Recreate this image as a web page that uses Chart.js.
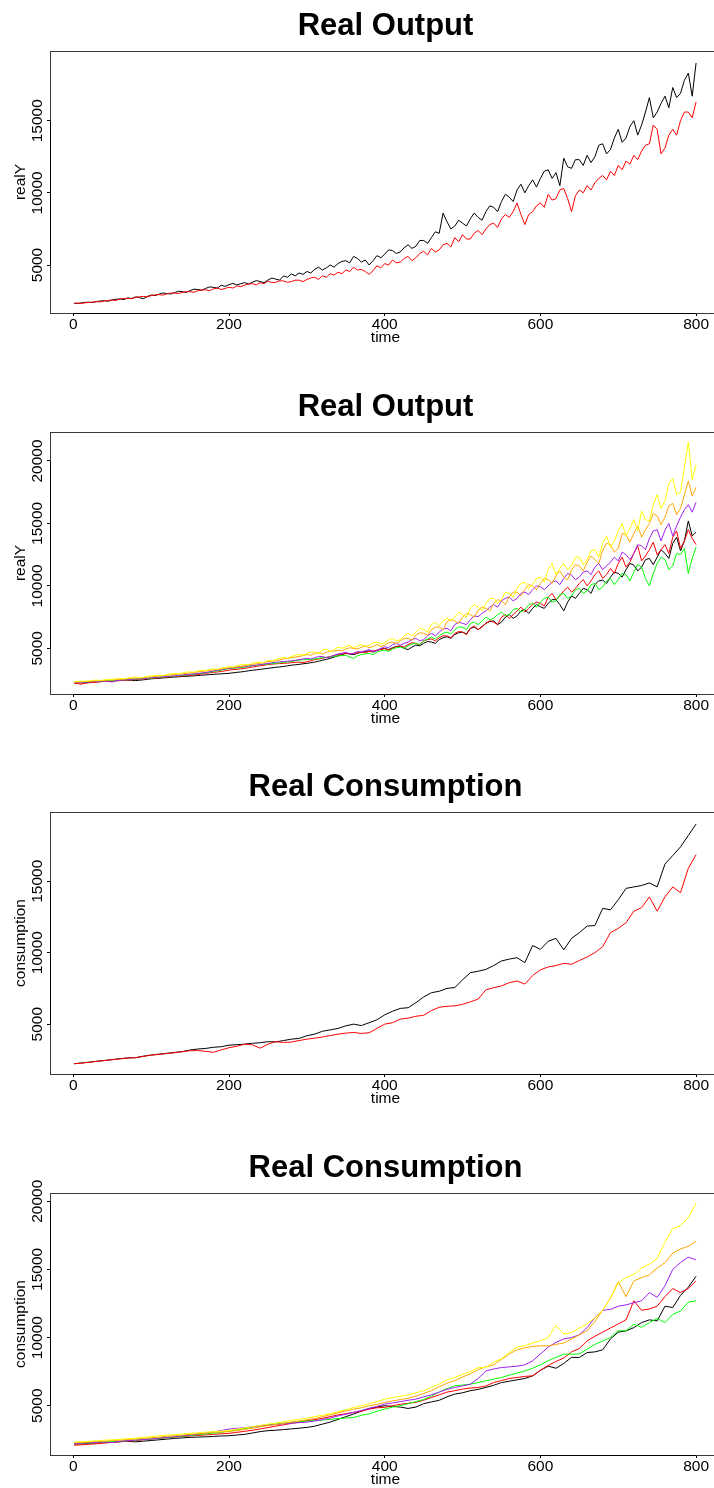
<!DOCTYPE html>
<html>
<head>
<meta charset="utf-8">
<title>Real Output / Real Consumption</title>
<script src="https://cdn.jsdelivr.net/npm/chart.js@4.4.1/dist/chart.umd.min.js"></script>
<style>
  html, body { margin: 0; padding: 0; background: #fff; }
  body { width: 714px; height: 1488px; overflow: hidden; position: relative; }
  .panel { position: absolute; left: 0; }
  .panel canvas { display: block; }
</style>
</head>
<body>
<div class="panel" style="top:0px"><canvas id="p1" width="730" height="372"></canvas></div>
<div class="panel" style="top:381px"><canvas id="p2" width="730" height="372"></canvas></div>
<div class="panel" style="top:761px"><canvas id="p3" width="730" height="372"></canvas></div>
<div class="panel" style="top:1142px"><canvas id="p4" width="730" height="372"></canvas></div>

<script>
/* ---------- data ----------
 * Output panels are noisy, so they are read every 5 periods;
 * the smoother consumption panels every 10.
 */

const timeFine = [
  1, 5, 10, 15, 20, 25, 30, 35, 40, 45, 50, 55, 60, 65, 70, 75, 80, 85, 90, 95,
  100, 105, 110, 115, 120, 125, 130, 135, 140, 145, 150, 155, 160, 165, 170, 175, 180, 185, 190, 195,
  200, 205, 210, 215, 220, 225, 230, 235, 240, 245, 250, 255, 260, 265, 270, 275, 280, 285, 290, 295,
  300, 305, 310, 315, 320, 325, 330, 335, 340, 345, 350, 355, 360, 365, 370, 375, 380, 385, 390, 395,
  400, 405, 410, 415, 420, 425, 430, 435, 440, 445, 450, 455, 460, 465, 470, 475, 480, 485, 490, 495,
  500, 505, 510, 515, 520, 525, 530, 535, 540, 545, 550, 555, 560, 565, 570, 575, 580, 585, 590, 595,
  600, 605, 610, 615, 620, 625, 630, 635, 640, 645, 650, 655, 660, 665, 670, 675, 680, 685, 690, 695,
  700, 705, 710, 715, 720, 725, 730, 735, 740, 745, 750, 755, 760, 765, 770, 775, 780, 785, 790, 795,
  800
];

const timeCoarse = [
  1, 10, 20, 30, 40, 50, 60, 70, 80, 90,
  100, 110, 120, 130, 140, 150, 160, 170, 180, 190,
  200, 210, 220, 230, 240, 250, 260, 270, 280, 290,
  300, 310, 320, 330, 340, 350, 360, 370, 380, 390,
  400, 410, 420, 430, 440, 450, 460, 470, 480, 490,
  500, 510, 520, 530, 540, 550, 560, 570, 580, 590,
  600, 610, 620, 630, 640, 650, 660, 670, 680, 690,
  700, 710, 720, 730, 740, 750, 760, 770, 780, 790,
  800
];

const xTicks = [0, 200, 400, 600, 800];
const yTicksShort = [5000, 10000, 15000];
const yTicksLong = [5000, 10000, 15000, 20000];

// panel 1 — Real Output, two runs (timeFine)
const realYBlack1 = [
  2350, 2330, 2370, 2410, 2420, 2400, 2470, 2510, 2520, 2490, 2580, 2630, 2650, 2610, 2720, 2680, 2790, 2740, 2660, 2820,
  2920, 2880, 2980, 3060, 3020, 2990, 3090, 3180, 3150, 3100, 3230, 3330, 3300, 3250, 3380, 3480, 3450, 3400, 3600, 3520,
  3640, 3720, 3620, 3700, 3780, 3680, 3800, 3920, 3850, 3780, 3960, 4100, 4020, 3950, 4250, 4150, 4380, 4250, 4450, 4350,
  4550, 4450, 4700, 4850, 4650, 4800, 5000, 4850, 5100, 5250, 5300, 5150, 5600, 5450, 5200, 5350, 5000, 5300, 5650, 5500,
  5750, 6050, 6000, 5800, 5900, 6200, 6400, 6150, 6300, 6700, 6700, 6500, 6900, 7300, 7200, 8600, 8000, 7500, 7700, 8100,
  7900, 7700, 8200, 8600, 8300, 8100, 8700, 9100, 9000, 8700, 9400, 9900, 9700, 9400, 10200, 10600, 10000, 10500, 10900, 10400,
  11000, 11500, 11600, 11000, 11400, 10500, 12400, 11800, 11700, 12300, 12300, 11900, 12600, 12100, 12500, 13300, 13400, 12700, 13000, 13800,
  14400, 13500, 13800, 14600, 15000, 14000, 14700, 15600, 16600, 15200, 15600, 16200, 16700, 15900, 17300, 16600, 16900, 17800, 18300, 16700,
  19000
];
const realYRed1 = [
  2350, 2360, 2340, 2380, 2400, 2430, 2460, 2440, 2510, 2550, 2570, 2540, 2640, 2680, 2690, 2660, 2760, 2800, 2820, 2790,
  2880, 2930, 2950, 2910, 3000, 3050, 3060, 3020, 3100, 3150, 3150, 3110, 3220, 3270, 3280, 3220, 3350, 3400, 3300, 3380,
  3460, 3400, 3550, 3500, 3600, 3680, 3700, 3620, 3780, 3700, 3890, 3780, 3800, 3900, 3900, 3800, 3850, 3950, 3950, 3850,
  4000, 4100, 4150, 4000, 4250, 4150, 4400, 4300, 4500, 4400, 4650, 4550, 4850, 4650, 4700, 4550, 4350, 4600, 4950, 4800,
  5100, 5000, 5350, 5150, 5200, 5450, 5600, 5300, 5500, 5800, 5950, 5700, 6150, 5900, 6050, 6400, 6500, 6250, 6900, 6600,
  7100, 6800, 6800, 7200, 7400, 7100, 7500, 7800, 7900, 7600, 8200, 8500, 8300, 8700, 9300, 8500, 7800, 8500, 8700, 9100,
  9300, 9000, 9900, 9500, 9600, 10200, 10300, 9600, 8700, 9800, 10200, 10000, 10500, 10200, 10700, 11000, 11200, 10900, 11500, 11200,
  11900, 11600, 12200, 12000, 12600, 12300, 12900, 13300, 13400, 14700, 14400, 12700, 13100, 14000, 14400, 14000, 15000, 15600, 15600, 15200,
  16300
];

// panel 2 — Real Output, six runs (timeFine)
const realYYellow2 = [
  2330, 2350, 2380, 2360, 2400, 2440, 2450, 2430, 2480, 2520, 2520, 2560, 2580, 2560, 2620, 2680, 2700, 2660, 2690, 2760,
  2780, 2820, 2850, 2820, 2900, 2960, 2990, 2950, 3020, 3100, 3120, 3080, 3200, 3250, 3230, 3300, 3350, 3320, 3420, 3480,
  3530, 3500, 3600, 3680, 3720, 3680, 3800, 3870, 3900, 3850, 4060, 4000, 4100, 4200, 4280, 4200, 4350, 4450, 4520, 4450,
  4600, 4700, 4700, 4600, 4850, 4950, 4750, 4900, 5100, 5000, 5130, 5250, 5050, 5200, 5300, 5150, 5250, 5450, 5500, 5350,
  5450, 5700, 5800, 5600, 5700, 6000, 6200, 6000, 6300, 6600, 6500, 6300, 6900, 7100, 6800, 7200, 7400, 7200, 7500, 7900,
  7700, 7500, 8200, 8500, 8300, 8000, 8600, 9000, 9000, 8600, 8900, 9500, 9400, 9100, 9800, 10200, 10300, 9800, 10100, 10600,
  10700, 10300, 11300, 11800, 10900, 11400, 11800, 11300, 11600, 12300, 12300, 11700, 12100, 12800, 12900, 12300, 13400, 14000, 13100, 13600,
  14400, 15000, 14000, 14600, 15300, 14400, 16000, 15300, 15200, 16500, 17300, 16200, 16800, 18200, 18600, 17300, 17500, 19500, 21500, 18500,
  19700
];
const realYOrange2 = [
  2300, 2310, 2320, 2340, 2360, 2380, 2400, 2420, 2440, 2460, 2470, 2500, 2520, 2540, 2570, 2600, 2620, 2630, 2650, 2690,
  2720, 2750, 2780, 2810, 2840, 2870, 2900, 2940, 2960, 3000, 3050, 3080, 3120, 3150, 3180, 3230, 3280, 3310, 3350, 3400,
  3450, 3480, 3520, 3560, 3600, 3680, 3720, 3760, 3800, 3880, 3950, 3970, 4000, 4080, 4150, 4200, 4250, 4300, 4350, 4420,
  4500, 4450, 4600, 4650, 4550, 4700, 4750, 4800, 4850, 4800, 4950, 5050, 5000, 4950, 5100, 5200, 5050, 5150, 5300, 5150,
  5260, 5450, 5500, 5400, 5600, 5800, 5800, 5650, 6060, 6250, 6200, 6050, 6500, 6700, 6700, 6500, 7130, 7300, 7200, 7000,
  7500, 7800, 7700, 7500, 8060, 8300, 8200, 8000, 8600, 8900, 8800, 8500, 9130, 9500, 9500, 9200, 9700, 10100, 10000, 9700,
  10200, 10600, 10500, 10200, 10800, 11200, 10700, 10500, 11260, 11700, 11600, 11200, 11900, 12400, 12100, 11800, 12860, 13400, 13300, 12700,
  13000, 14200, 14100, 13500, 14200, 14800, 13900, 14500, 15000, 15800, 15600, 14900, 15500, 16400, 16600, 15700, 16200, 17300, 18400, 17200,
  17900
];
const realYPurple2 = [
  2280, 2290, 2270, 2300, 2320, 2340, 2350, 2370, 2390, 2350, 2300, 2420, 2460, 2480, 2500, 2530, 2550, 2560, 2580, 2620,
  2650, 2680, 2700, 2730, 2760, 2780, 2800, 2840, 2870, 2900, 2930, 2970, 3000, 3030, 3060, 3130, 3200, 3250, 3300, 3350,
  3400, 3430, 3470, 3510, 3550, 3590, 3620, 3660, 3700, 3750, 3800, 3840, 3880, 3920, 3950, 3970, 4000, 4050, 4100, 4150,
  4200, 4150, 4250, 4350, 4350, 4250, 4300, 4450, 4550, 4600, 4700, 4550, 4600, 4750, 4700, 4800, 4900, 4750, 4800, 5000,
  5130, 5050, 5300, 5400, 5250, 5400, 5500, 5700, 5800, 5600, 5700, 6000, 6200, 6000, 6300, 6550, 6600, 6400, 6900, 7100,
  7000, 6900, 7300, 7600, 7530, 7800, 8000, 8300, 8500, 8300, 8800, 9000, 9100, 8800, 9000, 9400, 9500, 9300, 9700, 10000,
  9930, 9700, 10000, 10300, 10400, 10100, 10600, 11000, 10860, 10500, 10700, 11100, 11200, 10900, 11500, 11800, 11300, 11600, 11900, 12300,
  12000, 12700, 12500, 12100, 12600, 13300, 13200, 12900, 13800, 14400, 14500, 13600, 14460, 15000, 14000, 14800, 15500, 16100, 16500, 15900,
  16700
];
const realYGreen2 = [
  2280, 2290, 2300, 2310, 2330, 2350, 2370, 2380, 2400, 2420, 2440, 2450, 2470, 2490, 2500, 2520, 2540, 2550, 2570, 2600,
  2620, 2650, 2680, 2700, 2730, 2760, 2780, 2810, 2850, 2870, 2900, 2940, 2970, 3010, 3050, 3100, 3150, 3200, 3250, 3320,
  3380, 3400, 3420, 3460, 3500, 3550, 3600, 3640, 3680, 3720, 3750, 3780, 3800, 3840, 3880, 3910, 3950, 4000, 4050, 4080,
  4100, 4120, 4150, 4200, 4250, 4280, 4300, 4350, 4400, 4420, 4450, 4300, 4200, 4400, 4500, 4550, 4600, 4500, 4700, 4800,
  4860, 4750, 4950, 5050, 5100, 5000, 5200, 5350, 5400, 5300, 5600, 5750, 5900, 5750, 6000, 6200, 6300, 6150, 6500, 6700,
  6700, 6500, 7000, 7100, 6900, 7200, 7500, 7300, 7400, 7700, 7900, 7600, 7700, 8100, 8200, 7900, 8100, 8500, 8600, 8300,
  8700, 9000, 9100, 8700, 8800, 9300, 9400, 9000, 9200, 9700, 9800, 9400, 9600, 10100, 10200, 9700, 9900, 10400, 10600, 10100,
  10500, 11000, 10900, 10400, 11100, 11700, 11500, 10600, 10000, 11000, 11800, 12300, 12100, 11300, 11600, 12600, 12500, 13000, 11000, 12200,
  13100
];
const realYRed2 = [
  2220, 2180, 2130, 2200, 2250, 2270, 2300, 2330, 2350, 2360, 2380, 2400, 2420, 2450, 2470, 2490, 2500, 2520, 2540, 2570,
  2600, 2620, 2640, 2670, 2700, 2720, 2750, 2780, 2800, 2820, 2850, 2870, 2900, 2950, 3000, 3040, 3080, 3110, 3150, 3200,
  3260, 3290, 3320, 3360, 3400, 3450, 3500, 3550, 3600, 3650, 3700, 3730, 3760, 3780, 3800, 3820, 3850, 3880, 3900, 3850,
  3930, 4000, 4100, 4150, 4200, 4280, 4350, 4420, 4500, 4550, 4600, 4550, 4600, 4650, 4700, 4650, 4750, 4800, 4850, 4900,
  4990, 4850, 5000, 5150, 5200, 5100, 5300, 5450, 5400, 5300, 5600, 5700, 5750, 5600, 5850, 6000, 6000, 5850, 6200, 6350,
  6300, 6100, 6600, 6800, 6500, 6700, 7000, 7200, 7100, 6900, 7500, 7700, 7400, 7700, 8000, 8300, 7900, 8200, 8500, 8700,
  8600, 8400, 9100, 9400, 8900, 9200, 9600, 9900, 9500, 9800, 10200, 10500, 10000, 10400, 10900, 11200, 10600, 10900, 11400, 11000,
  11800, 12300, 11500, 11900, 12600, 13200, 12000, 12400, 12900, 13500, 12500, 12900, 13300, 12600, 13900, 14400, 13000, 13600, 14500, 13800,
  13300
];
const realYBlack2 = [
  2260, 2250, 2240, 2260, 2280, 2300, 2320, 2340, 2360, 2370, 2390, 2410, 2430, 2450, 2460, 2440, 2420, 2450, 2480, 2520,
  2560, 2580, 2600, 2630, 2650, 2680, 2700, 2720, 2750, 2760, 2780, 2800, 2830, 2850, 2870, 2900, 2920, 2940, 2960, 2980,
  3000, 3040, 3080, 3110, 3150, 3200, 3250, 3280, 3320, 3360, 3400, 3440, 3480, 3510, 3550, 3600, 3650, 3680, 3720, 3760,
  3800, 3850, 3900, 3970, 4050, 4120, 4200, 4300, 4400, 4500, 4600, 4550, 4500, 4600, 4700, 4750, 4800, 4700, 4850, 4950,
  4990, 4900, 5050, 5150, 5150, 5000, 4900, 5100, 5260, 5200, 5400, 5550, 5500, 5400, 5700, 5850, 5930, 5800, 6100, 6250,
  6300, 6150, 6600, 6700, 6500, 6750, 7000, 7150, 7200, 6900, 7100, 7500, 7700, 7400, 7600, 8000, 8100, 7800, 8200, 8500,
  8330, 8200, 8600, 8900, 8900, 8500, 8000, 8700, 9200, 9000, 9400, 9800, 9700, 9400, 10100, 10400, 10460, 10200, 10700, 11100,
  11000, 10700, 11300, 11800, 11660, 11200, 11500, 12100, 12200, 11700, 12300, 12900, 12600, 12200, 13400, 13900, 12800, 13600, 15200, 14000,
  14300
];

// panel 3 — Real Consumption, two runs (timeCoarse)
const consBlack3 = [
  2230, 2280, 2340, 2400, 2460, 2520, 2580, 2640, 2650, 2760,
  2840, 2900, 2960, 3020, 3080, 3190, 3260, 3300, 3380, 3420,
  3530, 3560, 3600, 3660, 3700, 3770, 3760, 3850, 3950, 4000,
  4190, 4300, 4500, 4600, 4700, 4880, 5000, 4900, 5100, 5300,
  5650, 5900, 6100, 6150, 6500, 6900, 7200, 7300, 7500, 7560,
  8100, 8600, 8700, 8830, 9100, 9420, 9550, 9650, 9300, 10500,
  10230, 10800, 11000, 10200, 11000, 11400, 11860, 11900, 13100, 13000,
  13700, 14500, 14600, 14700, 14880, 14600, 16200, 16800, 17400, 18200,
  19000
];
const consRed3 = [
  2230, 2270, 2330, 2390, 2450, 2510, 2570, 2630, 2660, 2740,
  2830, 2880, 2940, 3000, 3070, 3140, 3150, 3100, 3030, 3200,
  3350, 3450, 3600, 3550, 3320, 3600, 3770, 3720, 3750, 3850,
  3950, 4020, 4100, 4200, 4300, 4370, 4420, 4350, 4400, 4700,
  5000, 5100, 5350, 5420, 5550, 5620, 5950, 6180, 6250, 6280,
  6390, 6560, 6750, 7400, 7550, 7680, 7900, 8020, 7800, 8400,
  8800, 9000, 9100, 9250, 9190, 9450, 9700, 10000, 10420, 11400,
  11700, 12100, 12900, 13150, 13900, 12900, 13900, 14600, 14200, 15900,
  16860
];

// panel 4 — Real Consumption, six runs (timeCoarse)
const consYellow4 = [
  2330, 2360, 2400, 2430, 2470, 2500, 2540, 2580, 2620, 2680,
  2730, 2790, 2840, 2880, 2930, 2980, 3020, 3060, 3100, 3140,
  3180, 3280, 3370, 3460, 3560, 3650, 3730, 3820, 3920, 4000,
  4090, 4200, 4300, 4420, 4560, 4700, 4880, 5000, 5150, 5300,
  5480, 5600, 5700, 5800, 5950, 6100, 6350, 6600, 6900, 7080,
  7300, 7500, 7800, 7800, 8200, 8450, 8900, 9300, 9400, 9600,
  9760, 10000, 10900, 10250, 10370, 10700, 11000, 11450, 12000, 12900,
  14000, 14400, 14640, 15100, 15400, 15800, 17000, 18000, 18200, 18800,
  19850
];
const consOrange4 = [
  2280, 2300, 2340, 2380, 2410, 2440, 2480, 2520, 2560, 2600,
  2650, 2700, 2750, 2800, 2850, 2900, 2950, 3000, 3050, 3080,
  3100, 3180, 3260, 3350, 3450, 3550, 3620, 3700, 3800, 3880,
  3970, 4060, 4200, 4330, 4480, 4620, 4750, 4850, 5000, 5100,
  5240, 5350, 5450, 5550, 5700, 5900, 6100, 6400, 6650, 6850,
  7100, 7350, 7650, 7850, 8000, 8400, 8800, 9100, 9250, 9350,
  9400, 9390, 9500, 9600, 9900, 10200, 10500, 11200, 12000, 12900,
  14100, 13000, 14150, 14400, 14600, 15100, 15500, 16200, 16500, 16700,
  17080
];
const consPurple4 = [
  2230, 2250, 2280, 2310, 2340, 2300, 2400, 2440, 2480, 2520,
  2560, 2620, 2680, 2730, 2790, 2850, 2920, 3000, 3080, 3180,
  3290, 3340, 3390, 3450, 3520, 3580, 3620, 3670, 3720, 3760,
  3800, 3880, 3980, 4100, 4250, 4380, 4510, 4650, 4800, 4950,
  5120, 5200, 5300, 5400, 5480, 5650, 5800, 6000, 6200, 6340,
  6450, 6580, 7000, 7550, 7700, 7800, 7850, 7900, 8000, 8290,
  8800, 9300, 9650, 9900, 10000, 10200, 10730, 11460, 12000, 12070,
  12300, 12400, 12550, 12700, 13300, 12950, 13800, 15000, 15500, 15900,
  15700
];
const consGreen4 = [
  2220, 2240, 2270, 2300, 2330, 2370, 2400, 2440, 2480, 2520,
  2560, 2610, 2660, 2710, 2760, 2810, 2870, 2930, 2990, 3050,
  3150, 3230, 3320, 3420, 3520, 3600, 3660, 3720, 3780, 3830,
  3870, 3900, 3950, 4000, 4050, 4100, 4140, 4300, 4400, 4600,
  4750, 4900, 5000, 5150, 5300, 5450, 5700, 6000, 6250, 6460,
  6520, 6580, 6700, 6830, 6950, 7070, 7250, 7400, 7550, 7750,
  8000, 8300, 8550, 8780, 8780, 8800, 9146, 9500, 9750, 10000,
  10500, 10500, 10980, 10750, 11100, 11400, 11100, 11700, 11950, 12600,
  12700
];
const consRed4 = [
  2100, 2130, 2170, 2210, 2260, 2310, 2360, 2400, 2440, 2500,
  2560, 2600, 2650, 2700, 2740, 2780, 2820, 2860, 2900, 2940,
  2975, 3050, 3120, 3200, 3300, 3400, 3500, 3600, 3700, 3800,
  3900, 3980, 4080, 4200, 4320, 4420, 4510, 4600, 4750, 4850,
  4880, 5000, 5100, 5180, 5250, 5400, 5600, 5800, 6000, 6100,
  6220, 6300, 6340, 6450, 6700, 6850, 7000, 7070, 7150, 7194,
  7600, 7950, 8250, 8500, 8950, 9200, 9760, 10100, 10400, 10700,
  11000, 11300, 12700, 12000, 12100, 12300, 13000, 13600, 13300, 13600,
  14150
];
const consBlack4 = [
  2190, 2200, 2240, 2270, 2300, 2330, 2360, 2390, 2350, 2400,
  2450, 2500, 2550, 2600, 2640, 2680, 2700, 2720, 2750, 2780,
  2800, 2850, 2900, 3000, 3100, 3170, 3200, 3250, 3300, 3350,
  3410, 3500, 3650, 3800, 4000, 4200, 4390, 4600, 4800, 4900,
  5000, 4950, 4900, 4800, 4900, 5150, 5280, 5400, 5650, 5850,
  5950, 6100, 6200, 6340, 6500, 6700, 6800, 6900, 7000, 7190,
  7600, 7900, 7750, 8100, 8550, 8540, 8900, 8950, 9100, 9900,
  10400, 10490, 10730, 11100, 11300, 11220, 12300, 12200, 13100, 13700,
  14500
];

/* ---------- look ---------- */

const FONT = '"Liberation Sans", Arial, Helvetica, sans-serif';
const COL = {
  black: '#000000', red: '#FF0000', green: '#00FF00',
  purple: '#A020F0', orange: '#FFA500', yellow: '#FFFF00'
};

Chart.defaults.font.family = FONT;
Chart.defaults.color = '#000';

// R-style frame: box, axis segment between end ticks, bold title, vertical y labels
const panelFrame = {
  id: 'panelFrame',
  afterDraw(chart, args, opts) {
    const { ctx, chartArea: a, scales: { x, y } } = chart;
    const px = (v) => Math.round(v) + 0.5;
    ctx.save();
    ctx.lineWidth = 1;

    ctx.strokeStyle = '#3a3a3a';
    ctx.strokeRect(px(a.left), px(a.top), Math.round(a.right - a.left), Math.round(a.bottom - a.top));

    ctx.strokeStyle = '#000';
    ctx.beginPath();
    ctx.moveTo(x.getPixelForValue(xTicks[0]), px(a.bottom));
    ctx.lineTo(x.getPixelForValue(xTicks[xTicks.length - 1]), px(a.bottom));
    ctx.moveTo(px(a.left), y.getPixelForValue(opts.yTicks[0]));
    ctx.lineTo(px(a.left), y.getPixelForValue(opts.yTicks[opts.yTicks.length - 1]));
    ctx.stroke();

    ctx.fillStyle = '#000';
    ctx.textAlign = 'center';
    ctx.textBaseline = 'alphabetic';
    ctx.font = 'bold 31px ' + FONT;
    ctx.fillText(opts.title, (a.left + a.right) / 2, 35);

    ctx.font = '15.5px ' + FONT;
    opts.yTicks.forEach((v) => {
      ctx.save();
      ctx.translate(41.5, y.getPixelForValue(v));
      ctx.rotate(-Math.PI / 2);
      ctx.fillText(String(v), 0, 0);
      ctx.restore();
    });
    ctx.restore();
  }
};

function series(times, values, color) {
  return {
    data: times.map((t, i) => ({ x: t, y: values[i] })),
    borderColor: color,
    borderWidth: 1,
    pointRadius: 0,
    tension: 0,
    fill: false
  };
}

const tickGrid = { drawOnChartArea: false, drawTicks: true, tickLength: 3, tickColor: '#000', tickWidth: 1 };
const smallFont = { size: 15.5, lineHeight: 1 };

function makePanel(id, title, yLabel, yMin, yMax, yTicks, datasets) {
  return new Chart(document.getElementById(id), {
    type: 'line',
    data: { datasets },
    options: {
      responsive: false,
      animation: false,
      events: [],
      layout: { padding: { top: 51, right: 9, bottom: 0, left: 0 } },
      plugins: {
        legend: { display: false },
        tooltip: { enabled: false },
        panelFrame: { title, yTicks }
      },
      scales: {
        x: {
          type: 'linear',
          min: -30,
          max: 832,
          afterBuildTicks: (s) => { s.ticks = xTicks.map((v) => ({ value: v })); },
          afterFit: (s) => { s.height = 59; },
          grid: tickGrid,
          border: { display: false },
          ticks: { color: '#000', font: smallFont, padding: 1, maxRotation: 0, autoSkip: false, callback: (v) => String(v) },
          title: { display: true, text: 'time', color: '#000', font: smallFont, padding: { top: 0, bottom: 26.25 } }
        },
        y: {
          type: 'linear',
          min: yMin,
          max: yMax,
          afterBuildTicks: (s) => { s.ticks = yTicks.map((v) => ({ value: v })); },
          afterFit: (s) => { s.width = 50; },
          grid: tickGrid,
          border: { display: false },
          ticks: { display: false },
          title: { display: true, text: yLabel, color: '#000', font: smallFont, padding: { top: 13.3, bottom: 0 } }
        }
      }
    },
    plugins: [panelFrame]
  });
}

// first dataset is painted last (on top), so list in reverse plotting order
makePanel('p1', 'Real Output', 'realY', 1674, 19830, yTicksShort, [
  series(timeFine, realYRed1, COL.red),
  series(timeFine, realYBlack1, COL.black)
]);

makePanel('p2', 'Real Output', 'realY', 1346, 22319, yTicksLong, [
  series(timeFine, realYYellow2, COL.yellow),
  series(timeFine, realYOrange2, COL.orange),
  series(timeFine, realYPurple2, COL.purple),
  series(timeFine, realYGreen2, COL.green),
  series(timeFine, realYRed2, COL.red),
  series(timeFine, realYBlack2, COL.black)
]);

makePanel('p3', 'Real Consumption', 'consumption', 1511, 19843, yTicksShort, [
  series(timeCoarse, consRed3, COL.red),
  series(timeCoarse, consBlack3, COL.black)
]);

makePanel('p4', 'Real Consumption', 'consumption', 1385, 20607, yTicksLong, [
  series(timeCoarse, consYellow4, COL.yellow),
  series(timeCoarse, consOrange4, COL.orange),
  series(timeCoarse, consPurple4, COL.purple),
  series(timeCoarse, consGreen4, COL.green),
  series(timeCoarse, consRed4, COL.red),
  series(timeCoarse, consBlack4, COL.black)
]);
</script>
</body>
</html>
